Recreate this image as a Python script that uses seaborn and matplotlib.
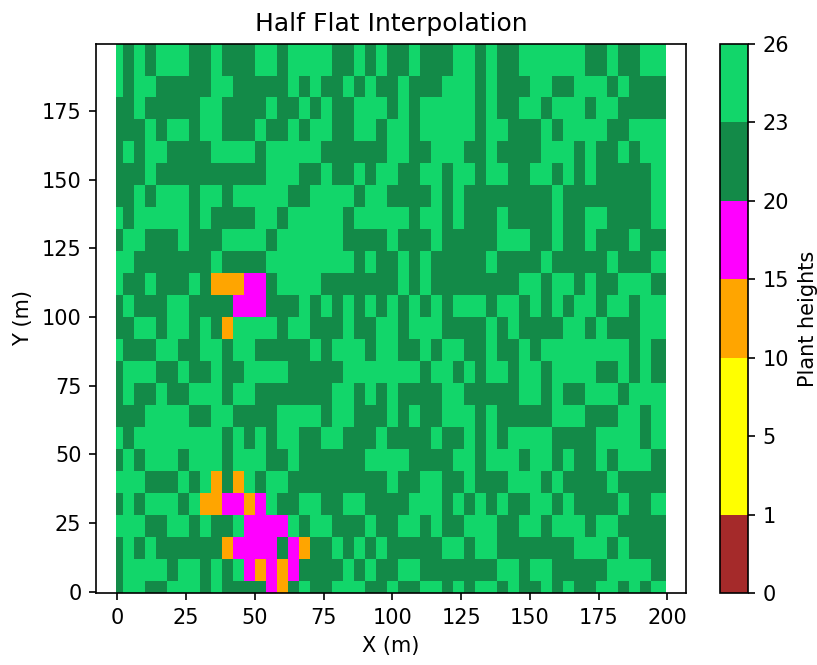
import numpy as np
import matplotlib
matplotlib.use("Agg")
import matplotlib.pyplot as plt
from matplotlib.colors import ListedColormap, BoundaryNorm
import seaborn as sns

# height classes (colourbar boundaries) and their colours
levels = [0, 1, 5, 10, 15, 20, 23, 26]
level_colors = ["#a52a2a", "#ffff00", "#ffff00", "#ffa500", "#ff00ff", "#138a48", "#12d66a"]

# sample positions of the field (m)
x_samples = np.arange(0, 200, 4)
y_samples = np.arange(0, 200, 8)
field_extent = (-0.5, 199.5)

# plant height class per sample
# L = 23-26, D = 20-23, M = 15-20, O = 10-15   (top row first)
class_height = {"L": 24.5, "D": 21.5, "M": 17.5, "O": 12.5}
grid_rows = [
    "LDLDLLLDDLDDDLLDLLLLDDLDL" + "DDLDDDLLDLDDLLLLLLDDLDDLL",
    "LDLLDDDDDLLDDDDDLDLDDLDLD" + "DLDDDLLLDLDDDLLDDLLLDLDDD",
    "DDLDDDDDLLDDDDLDDLDLDDLLL" + "DLDLLLLLDLDDLLDLLLDLLDDDD",
    "DDDLDLLDLLDDDLDDLDLLDDLLD" + "LLDLLLLLDLLDDDLDLLLLDDLLL",
    "DLDLLDDDDLLLLDLLLLLDDDDDD" + "LLDDLLLDDLDDDDLLLDLDDLDLL",
    "DDDLDDDDDDDDDDLLLDDLDDLDL" + "LDDLLDLLDLLDDLLDLDLDDDDDL",
    "DDLDLLLDLLDLLLLLDDLLLLDLL" + "DDDDLDLDDDDDDDDLDDDDDDDDL",
    "LDLLLLLDLDDDDLLDLLLLLDLLL" + "LLDLLDLDDDLDDDDLDDLLDDDDL",
    "DLLDDDLDDDLLLLDLLLLLLDDDD" + "LDDDLDDDDDLLLDDLDDLDDDLDD",
    "LLDDDDDDDLDDDDLLLLLLLLDLD" + "DLDLDDDDDLDDDDLDDDDDLDDDL",
    "LDDLDDDLDOOOMMDLLLLDDDDDD" + "DLDLDDDDDDDDLLDLLDLDDLLLD",
    "DLDDDLLDDDDMMMDDDLDLDLDLD" + "LDLDLDLLLDLLDLDLDLLDLLDLL",
    "DDLLDLLDLDOLLLLDLLDDDLDDL" + "LDLLLDDDDLDLDDDDLLDLDDDLL",
    "LDDDLLDDLLDLLDDDDDLDLLLDL" + "LDDLDLLDDLDDLDLLLLLLLLDLD",
    "DLLLDDLDDLDDLLLLDDDDDLLLL" + "LLLDLLDLDLLDLLDLLLLDDLDLD",
    "DLDDLDDLLLDLLDDDDDDDLLDLD" + "LDDDDLLDDDDDLLDLDDLLLDLLL",
    "DDDLLLLDDLLDDDDLLLLDLLDDD" + "LDLDDLLLDLDDDDDLLLDDDLLDL",
    "LDLLLLLLLLDLDLDLLDDLLDDDL" + "DDDDLDDLDLDLLLLDDDDLLLLDL",
    "DLDLLLDLLLDLLLDDLDDDDDDLL" + "LLDDDDLLDLLLDLLDLDDLDLLLD",
    "LLLDDDLDLODOLDLLDDDDDDDDD" + "LDDLLDDLDDDLLLDLDDDDLDDDD",
    "DLDLLLDLOOMMOMLDDLLDDLLDD" + "DDLLLDLDLDLDDLLDLDDDDLDDL",
    "LLLDDLLDLDDLMMMMLDLLDDDLD" + "DLLDLDDLLLDDLLDLLLDLLDDDD",
    "DLDLDDDDDDOMMMMDMODDLDLDL" + "DDDDDLLDLLDDDDDDDLLLDLDDD",
    "DLLLLDLLDLDLMOMOMDDDDLDLD" + "DLLDDDDDDDLLDLLDDDDDLLLLD",
    "DLLDDLLLDLDDDDMODLDDLLLDD" + "LDDLLDLDLLDLDDLDLDDLLDLDL",
]

heights = np.array([[class_height[c] for c in row] for row in grid_rows[::-1]])

# cell edges: halfway between samples, clipped to the field
x_edges = np.concatenate([[field_extent[0]], (x_samples[:-1] + x_samples[1:]) / 2, [field_extent[1]]])
y_edges = np.concatenate([[field_extent[0]], (y_samples[:-1] + y_samples[1:]) / 2, [field_extent[1]]])

cmap = ListedColormap(sns.color_palette(level_colors))
norm = BoundaryNorm(levels, cmap.N)

fig = plt.figure(figsize=(817 / 150, 665 / 150), dpi=150)
ax = fig.add_axes([0.1175, 0.1083, 0.7222, 0.8256])
cax = fig.add_axes([0.8813, 0.1083, 0.0343, 0.8256])

mesh = ax.pcolormesh(x_edges, y_edges, heights, cmap=cmap, norm=norm,
                     shading="flat", antialiased=False, linewidth=0)

ax.set_xlim(-7.8, 206.8)
ax.set_ylim(field_extent)
ax.set_xticks(np.arange(0, 201, 25))
ax.set_yticks(np.arange(0, 176, 25))
ax.set_title("Half Flat Interpolation")
ax.set_xlabel("X (m)")
ax.set_ylabel("Y (m)")

cb = fig.colorbar(mesh, cax=cax, ticks=levels)
cb.set_label("Plant heights")

fig.savefig("out.png", dpi=150)
